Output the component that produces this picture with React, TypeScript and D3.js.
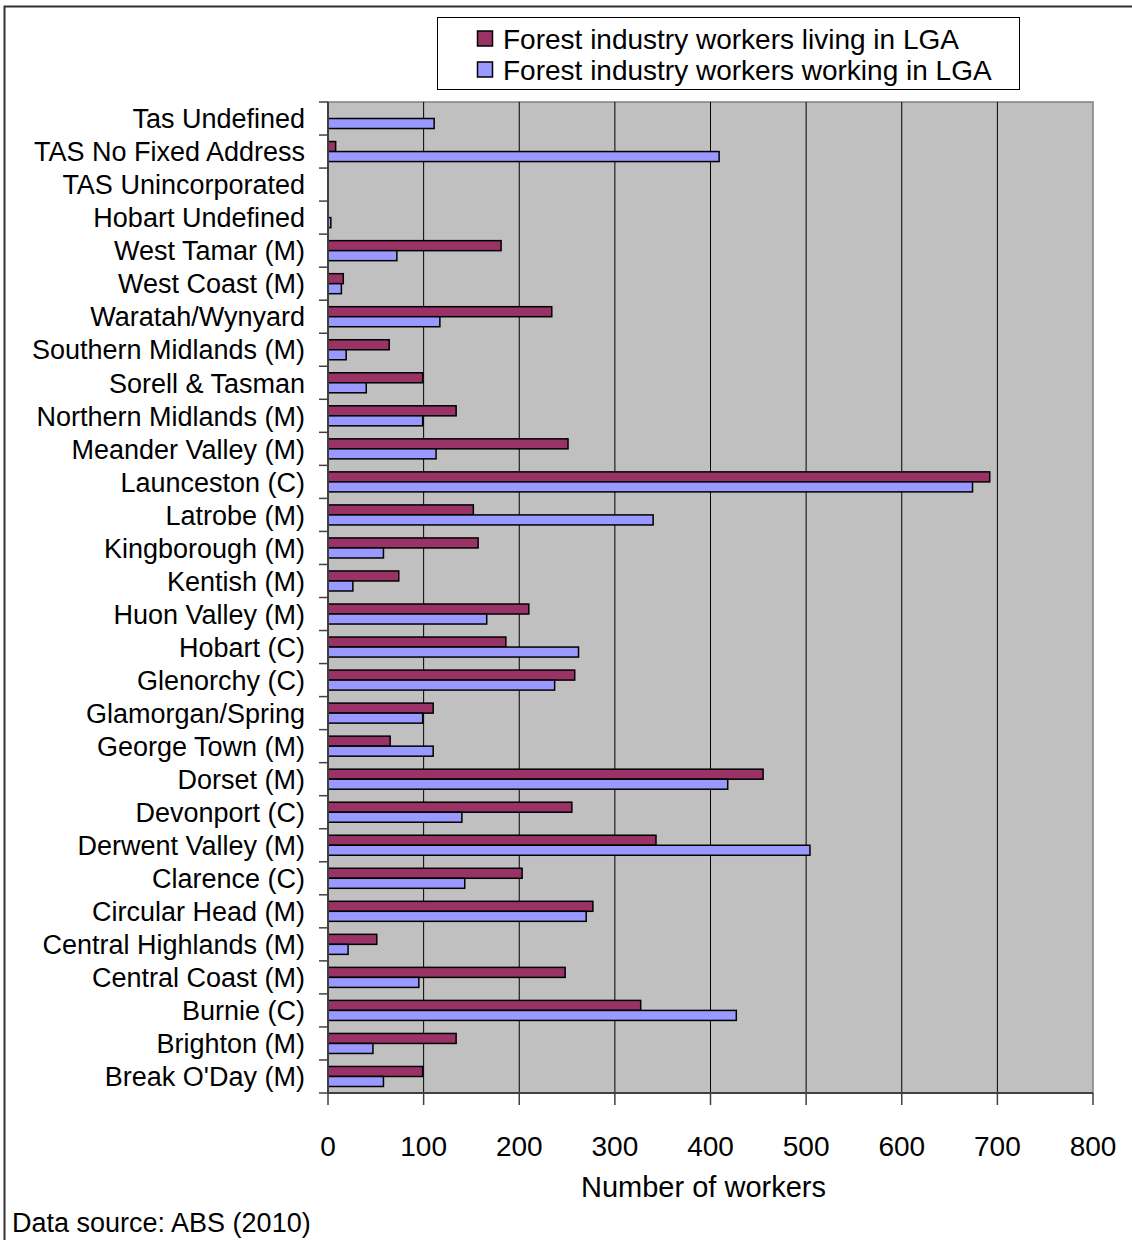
import React from "react";
import * as d3 from "d3";

// Local government areas, listed top to bottom as they appear on the chart
const categories: string[] = [
  "Tas Undefined",
  "TAS No Fixed Address",
  "TAS Unincorporated",
  "Hobart Undefined",
  "West Tamar (M)",
  "West Coast (M)",
  "Waratah/Wynyard",
  "Southern Midlands (M)",
  "Sorell & Tasman",
  "Northern Midlands (M)",
  "Meander Valley (M)",
  "Launceston (C)",
  "Latrobe (M)",
  "Kingborough (M)",
  "Kentish (M)",
  "Huon Valley (M)",
  "Hobart (C)",
  "Glenorchy (C)",
  "Glamorgan/Spring",
  "George Town (M)",
  "Dorset (M)",
  "Devonport (C)",
  "Derwent Valley (M)",
  "Clarence (C)",
  "Circular Head (M)",
  "Central Highlands (M)",
  "Central Coast (M)",
  "Burnie (C)",
  "Brighton (M)",
  "Break O'Day (M)",
];

// Forest industry workers living in each LGA
const livingInLGA: number[] = [
  0, 8, 0, 0, 181, 16, 234, 64, 99, 134, 251, 692, 152, 157, 74, 210, 186, 258,
  110, 65, 455, 255, 343, 203, 277, 51, 248, 327, 134, 99,
];

// Forest industry workers working in each LGA
const workingInLGA: number[] = [
  111, 409, 0, 3, 72, 14, 117, 19, 40, 99, 113, 674, 340, 58, 26, 166, 262, 237,
  99, 110, 418, 140, 504, 143, 270, 21, 95, 427, 47, 58,
];

const seriesNames: string[] = [
  "Forest industry workers living in LGA",
  "Forest industry workers working in LGA",
];
const seriesKeys: string[] = ["living", "working"];
const seriesColors: string[] = ["#993366", "#9999FF"];

const xTicks: number[] = [0, 100, 200, 300, 400, 500, 600, 700, 800];

const xAxisTitle = "Number of workers";
const sourceNote = "Data source: ABS (2010)";

const W = 1132;
const H = 1240;
const plot = { left: 328, right: 1093, top: 102, bottom: 1093 };
const FONT = "'Liberation Sans', Arial, Helvetica, sans-serif";

export default function App() {
  const x = d3.scaleLinear().domain([0, 800]).range([plot.left, plot.right]);
  const y = d3
    .scaleBand<string>()
    .domain(categories)
    .range([plot.top, plot.bottom])
    .padding(0);
  const inner = d3
    .scaleBand<string>()
    .domain(seriesKeys)
    .range([0, y.bandwidth()])
    .paddingInner(0)
    .paddingOuter(0.65);

  const rows = categories.map((c, i) => ({
    category: c,
    values: [livingInLGA[i], workingInLGA[i]],
  }));

  return (
    <svg
      width={W}
      height={H}
      style={{ position: "absolute", left: 0, top: 0, display: "block" }}
      fontFamily={FONT}
    >
      <rect x={0} y={0} width={W} height={H} fill="#ffffff" />
      {/* outer chart frame */}
      <rect
        x={4.5}
        y={6.5}
        width={W + 20}
        height={H + 20}
        fill="none"
        stroke="#333333"
        strokeWidth={2}
      />

      {/* plot area */}
      <rect
        x={plot.left}
        y={plot.top}
        width={plot.right - plot.left}
        height={plot.bottom - plot.top}
        fill="#C0C0C0"
        stroke="#808080"
        strokeWidth={1.5}
      />

      {/* vertical gridlines */}
      {xTicks
        .filter((t) => t > 0 && t < 800)
        .map((t) => (
          <line
            key={"g" + t}
            x1={x(t)}
            x2={x(t)}
            y1={plot.top}
            y2={plot.bottom}
            stroke="#000000"
            strokeWidth={1}
          />
        ))}

      {/* bars */}
      {rows.map((r) =>
        r.values.map((v, si) =>
          v > 0 ? (
            <rect
              key={r.category + si}
              x={x(0)}
              y={(y(r.category) as number) + (inner(seriesKeys[si]) as number)}
              width={x(v) - x(0)}
              height={inner.bandwidth()}
              fill={seriesColors[si]}
              stroke="#000000"
              strokeWidth={1.5}
            />
          ) : null
        )
      )}

      {/* category axis */}
      <line
        x1={plot.left}
        x2={plot.left}
        y1={plot.top}
        y2={plot.bottom}
        stroke="#404040"
        strokeWidth={2}
      />
      {categories.concat([""]).map((c, i) => {
        const yy = plot.top + i * y.step();
        return (
          <line
            key={"yt" + i}
            x1={plot.left - 9}
            x2={plot.left}
            y1={yy}
            y2={yy}
            stroke="#404040"
            strokeWidth={1.5}
          />
        );
      })}
      {categories.map((c) => (
        <text
          key={"yl" + c}
          x={305}
          y={(y(c) as number) + y.bandwidth() / 2}
          dy="0.36em"
          textAnchor="end"
          fontSize={27}
          fill="#000000"
        >
          {c}
        </text>
      ))}

      {/* value axis */}
      <line
        x1={plot.left}
        x2={plot.right}
        y1={plot.bottom}
        y2={plot.bottom}
        stroke="#404040"
        strokeWidth={2}
      />
      {xTicks.map((t) => (
        <g key={"xt" + t}>
          <line
            x1={x(t)}
            x2={x(t)}
            y1={plot.bottom}
            y2={plot.bottom + 12}
            stroke="#404040"
            strokeWidth={1.5}
          />
          <text
            x={x(t)}
            y={1156}
            textAnchor="middle"
            fontSize={28}
            fill="#000000"
          >
            {t}
          </text>
        </g>
      ))}
      <text
        x={(plot.left + plot.right) / 2 - 7}
        y={1197}
        textAnchor="middle"
        fontSize={29}
        fill="#000000"
      >
        {xAxisTitle}
      </text>

      <text x={12} y={1232} fontSize={27} fill="#000000">
        {sourceNote}
      </text>

      {/* legend */}
      <rect
        x={437.5}
        y={17.5}
        width={582}
        height={72}
        fill="#ffffff"
        stroke="#000000"
        strokeWidth={1}
      />
      {seriesNames.map((name, i) => (
        <g key={"lg" + i}>
          <rect
            x={477.5}
            y={31 + i * 31}
            width={15}
            height={15}
            fill={seriesColors[i]}
            stroke="#000000"
            strokeWidth={1.5}
          />
          <text x={503} y={48.5 + i * 31} fontSize={28} fill="#000000">
            {name}
          </text>
        </g>
      ))}
    </svg>
  );
}
